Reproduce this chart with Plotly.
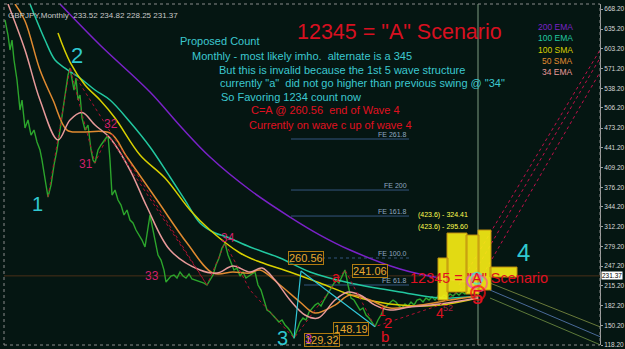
import plotly.graph_objects as go

BG = "#051612"
FONT = "Liberation Sans"

# ---------------- data (bar index, price) ----------------
price_x = [1,4,6,8,10,13,16,18,21,24,27,30,33,36,38,40,42,44,47,50,53,56,58,60,62,64,66,68,70,72,74,76,78,81,84,87,89,91,94,97,100,102,104,106,108,111,114,117,120,123,126,129,132,135,138,141,143,146,148,151,154,157,160,162,164,167,170,173,176,179,182,185,188,191,194,197,200,203,206,209,212,215,218,221,224,227,230,233,236,239,242,245,248,251,254,257,260,263,266,269,272,275,278,281,284,287,290,293,296,299,302,305,308,311,314,317,320,323,326,329,332,335,338,341,344,347,350,353,356,359,362,365,368,371,374,377,380,383,386,389,392,395,398,401,404,407,410,413,416,419,422,425,428,431,434,437,440,443,446,449,452,455,458,461,464,467,470,473]
price_y = [650.2,625.6,601.1,617.4,584.7,552.0,502.9,519.2,473.4,486.5,461.9,470.1,450.5,437.4,421.0,396.5,380.1,360.4,380.1,412.8,437.4,470.1,494.7,519.2,538.9,560.2,571.6,552.0,535.6,555.2,519.2,527.4,489.8,470.1,478.3,437.4,421.0,416.1,437.4,445.6,453.7,457.0,461.9,421.0,363.7,371.9,355.5,347.3,331.0,339.2,322.8,317.9,306.4,298.2,290.0,278.6,298.2,331.0,314.6,290.0,265.5,257.3,240.9,221.3,224.6,231.1,232.8,227.8,237.7,231.1,227.8,234.4,226.2,224.6,222.9,221.3,219.6,216.4,224.6,232.8,249.1,260.6,277.0,285.1,265.5,254.0,240.9,244.2,231.1,237.7,227.8,231.1,234.4,237.7,216.4,208.2,191.8,175.4,172.2,167.3,162.3,155.8,159.1,151.0,146.0,139.4,129.3,142.7,155.8,162.3,159.1,172.2,178.7,183.6,186.9,182.0,191.8,200.0,208.2,216.4,224.6,219.6,231.1,241.1,216.4,195.1,191.8,183.6,175.4,178.7,167.3,162.3,155.8,148.2,159.1,167.3,178.7,183.6,186.9,191.8,188.6,182.0,178.7,185.3,182.0,188.6,183.6,191.8,193.5,188.6,195.1,191.8,196.7,191.8,198.4,195.1,200.0,196.7,201.7,198.4,203.3,200.0,204.9,201.7,208.2,213.1,221.3,231.37]

ema200_x = [56,96,146,178,206,246,286,316,346,396,436,474]
ema200_y = [676.4,609.3,532.3,473.4,425.9,371.9,327.7,298.2,273.7,242.6,227.8,219.6]

ema100_x = [26,41,51,61,76,91,106,126,146,166,181,196,211,223,246,276,306,346,396,436,474]
ema100_y = [676.4,617.4,584.7,571.6,555.2,535.6,519.2,483.2,442.3,393.2,355.5,317.9,301.5,295.0,278.6,260.6,237.7,219.6,204.9,195.1,198.4]

sma100_x = [54,66,81,96,111,136,161,186,206,236,256,286,316,356,396,436,474]
sma100_y = [628.9,581.4,543.8,519.2,489.8,429.2,391.5,339.2,306.4,268.8,254.0,237.7,219.6,195.1,183.6,183.6,195.1]

sma50_x = [11,21,36,49,63,76,106,123,153,183,209,229,246,256,276,296,311,331,346,366,386,416,446,474]
sma50_y = [676.4,648.5,568.3,519.2,470.1,466.8,465.2,425.9,355.5,285.1,236.0,237.7,236.0,240.9,216.4,188.6,170.5,183.6,200.0,191.8,178.7,183.6,191.8,198.4]

ema34_x = [4,21,36,54,66,78,91,106,126,143,166,196,213,229,246,258,271,286,301,314,331,344,356,371,386,406,436,474]
ema34_y = [676.4,601.1,519.2,453.7,486.5,498.7,478.3,457.0,404.6,344.1,273.7,240.9,236.0,247.5,237.7,244.2,224.6,191.8,167.3,162.3,191.8,204.9,200.0,183.6,175.4,180.4,185.3,195.1]

wave_x = [44,66,91,104,203,221,246,290,341,371,436,474]
wave_y = [360.4,571.6,416.1,461.9,216.4,285.1,208.2,129.3,241.1,148.2,183.6,231.4]

cyan_x = [290,297,371]
cyan_y = [129.3,239.3,148.2]

fib_names = ["FE 261.8","FE 200","FE 161.8","FE 100.0","FE 61.8"]
fib_levels = [455.4,371.9,329.3,260.6,216.4]
fib_x0 = [287,287,287,318,300]
fib_x1 = [405,405,405,405,405]

chan_x0 = [455,463,473]
chan_y0 = [216.4,216.4,216.4]
chan_x1 = [599,599,599]
chan_y1 = [609.3,596.3,573.3]

fan_x0 = [486,486,486]
fan_y0 = [219.6,208.2,195.1]
fan_x1 = [599,599,599]
fan_y1 = [146.0,129.7,116.6]
fan_colors = ["#6a7a3a","#4a6a9a","#5e7a3a"]

proj_x0 = [434,443,462,474,486]
proj_x1 = [444,463,475,487,513]
proj_lo = [191.8,205.0,201.7,208.2,229.5]
proj_hi = [260.6,301.5,298.2,306.4,245.8]

box_text = ["260.56","241.06","148.19","129.32"]
box_x = [302,366,347,318]
box_y = [260.6,239.3,144.1,126.1]

wave_lbl = ["1","2","3","4"]
wave_lbl_x = [33,73,278,519]
wave_lbl_y = [349.0,592.9,130.0,270.4]
wave_lbl_size = [20,22,20,24]

sub_lbl = ["31","32","33","34","a","1","2","b","4","52","5"]
sub_lbl_x = [82,107,148,224,332,378,384,381,436,444,473]
sub_lbl_y = [414.5,479.9,231.1,293.3,229.5,172.2,155.5,131.5,170.5,178.7,196.7]
sub_lbl_size = [12,12,12,12,14,12,15,15,14,9,20]

ytick_vals = [118.20,150.20,182.20,215.20,247.20,279.20,312.20,344.20,376.20,409.20,441.20,473.20,506.20,538.20,571.20,603.20,635.20,668.20]
last_price = 231.37
cursor_x = 474

legend_names = ["200 EMA","100 EMA","100 SMA","50 SMA","34 EMA"]
legend_colors = ["#7a22c8","#22c8a0","#d8d000","#e08a30","#e89a9a"]

notes = [
    ("Proposed Count", "#3cc8d0"),
    ("Monthly - most likely imho.  alternate is a 345", "#3cc8d0"),
    ("But this is invalid because the 1st 5 wave structure", "#3cc8d0"),
    ("currently \"a\"  did not go higher than previous swing @ \"34\"", "#3cc8d0"),
    ("So Favoring 1234 count now", "#3cc8d0"),
    ("C=A @ 260.56  end of Wave 4", "#e01020"),
    ("Currently on wave c up of wave 4", "#e01020"),
]

# ---------------- layout helpers ----------------
W, H = 625, 349
L, R, T, B = 4, 25, 4, 4
PW = W - L - R
def P(px, py):
    return ((px - L) / PW, (H - B - py) / (H - T - B))

fig = go.Figure()

bx, by = [], []
for x0, x1, lo, hi in zip(proj_x0, proj_x1, proj_lo, proj_hi):
    bx += [x0, x1, x1, x0, x0, None]
    by += [lo, lo, hi, hi, lo, None]

for n, lv, a, b in zip(fib_names, fib_levels, fib_x0, fib_x1):
    fig.add_trace(go.Scatter(x=[a, b], y=[lv, lv], mode="lines",
                             line=dict(color="#35557f", width=1,
                                       dash="dot" if n == "FE 100.0" else "solid"),
                             hoverinfo="skip"))

for a, b, c, d in zip(chan_x0, chan_y0, chan_x1, chan_y1):
    fig.add_trace(go.Scatter(x=[a, c], y=[b, d], mode="lines",
                             line=dict(color="#c0104a", width=1, dash="dot")))
for a, b, c, d, col in zip(fan_x0, fan_y0, fan_x1, fan_y1, fan_colors):
    fig.add_trace(go.Scatter(x=[a, c], y=[b, d], mode="lines",
                             line=dict(color=col, width=1)))

fig.add_trace(go.Scatter(x=price_x, y=price_y, mode="lines",
                         line=dict(color="#2ca52c", width=1.4)))

for xs, ys, col in [(ema200_x, ema200_y, legend_colors[0]),
                    (ema100_x, ema100_y, legend_colors[1]),
                    (sma100_x, sma100_y, legend_colors[2]),
                    (sma50_x, sma50_y, legend_colors[3]),
                    (ema34_x, ema34_y, legend_colors[4])]:
    fig.add_trace(go.Scatter(x=xs, y=ys, mode="lines", line_shape="spline",
                             line=dict(color=col, width=1.5)))

fig.add_trace(go.Scatter(x=wave_x, y=wave_y, mode="lines",
                         line=dict(color="#b01030", width=1, dash="dot")))
fig.add_trace(go.Scatter(x=[wave_x[1], wave_x[4]], y=[wave_y[1], wave_y[4]], mode="lines",
                         line=dict(color="#b01030", width=1, dash="dot")))
fig.add_trace(go.Scatter(x=cyan_x, y=cyan_y, mode="lines",
                         line=dict(color="#30c8d8", width=1.2)))

fig.add_trace(go.Scatter(x=bx, y=by, mode="lines", fill="toself",
                         fillcolor="rgba(245,235,20,0.92)",
                         line=dict(color="#c09010", width=1)))

fig.add_trace(go.Scatter(x=[cursor_x - 4, cursor_x - 1, cursor_x + 1, cursor_x],
                         y=[last_price - 8, last_price - 4, last_price - 12, last_price - 28],
                         mode="markers",
                         marker=dict(symbol="circle-open", size=[14, 11, 16, 14],
                                     color=["#e040e0", "#40e0e0", "#ff5090", "#ff1010"],
                                     line=dict(width=2))))

shapes = [
    dict(type="line", xref="paper", yref="y", x0=0, x1=1, y0=last_price, y1=last_price,
         line=dict(color="#4a3018", width=1), layer="below"),
    dict(type="line", xref="x", yref="paper", x0=cursor_x, x1=cursor_x, y0=0, y1=1,
         line=dict(color="#7e9a80", width=1), layer="below"),
    dict(type="rect", xref="paper", yref="paper", x0=0, x1=1, y0=0, y1=1,
         line=dict(color="#8a8a8a", width=1, dash="dot")),
]

ann = []
for n, lv, b in zip(fib_names, fib_levels, fib_x1):
    ann.append(dict(x=b, y=lv, xref="x", yref="y", text=n, showarrow=False,
                    xanchor="right", yanchor="bottom", yshift=-1,
                    font=dict(family=FONT, size=7, color="#8fa8c0")))
for t, x, y in zip(box_text, box_x, box_y):
    ann.append(dict(x=x, y=y, xref="x", yref="y", text=t, showarrow=False,
                    font=dict(family=FONT, size=11, color="#e8a830"),
                    bordercolor="#b07a10", borderwidth=1, borderpad=0,
                    bgcolor="rgba(5,22,18,0.6)"))
for t, x, y, s in zip(wave_lbl, wave_lbl_x, wave_lbl_y, wave_lbl_size):
    ann.append(dict(x=x, y=y, xref="x", yref="y", text=t, showarrow=False,
                    font=dict(family=FONT, size=s, color="#30c8d0")))
for t, x, y, s in zip(sub_lbl, sub_lbl_x, sub_lbl_y, sub_lbl_size):
    col = "#a02040"
    if t in ("31", "32", "33", "34"):
        col = "#d0206a"
    if t in ("1", "2", "b", "4", "5", "a"):
        col = "#e01020"
    ann.append(dict(x=x, y=y, xref="x", yref="y", text=t, showarrow=False,
                    font=dict(family=FONT, size=s, color=col)))
ann.append(dict(x=box_x[3] - 14, y=box_y[3] + 2, xref="x", yref="y", text="3",
                showarrow=False, font=dict(family=FONT, size=13, color="#d040c0")))

for txt, py in [("(423.6) - 324.41", 215), ("(423.6) - 295.60", 233)]:
    x, y = P(470, py)
    ann.append(dict(x=x, y=y, xref="paper", yref="paper", text=txt, showarrow=False,
                    font=dict(family=FONT, size=7, color="#ffff50")))

x, y = P(295, 18)
ann.append(dict(x=x, y=y, xref="paper", yref="paper", text="12345 = \"A\" Scenario",
                showarrow=False, xanchor="left", font=dict(family=FONT, size=21.5, color="#d81020")))
x, y = P(408, 288)
ann.append(dict(x=x, y=y, xref="paper", yref="paper", text="12345 = \"A\" Scenario",
                showarrow=False, xanchor="left", font=dict(family=FONT, size=14.5, color="#e01020")))
note_pos = [(178, 33), (190, 48), (217, 62), (218, 75), (219, 89), (249, 102), (247, 117)]
for (t, c), (px, py) in zip(notes, note_pos):
    x, y = P(px, py)
    ann.append(dict(x=x, y=y, xref="paper", yref="paper", text=t, showarrow=False,
                    xanchor="left", font=dict(family=FONT, size=11, color=c)))
for i, (n, c) in enumerate(zip(legend_names, legend_colors)):
    x, y = P(575, [20, 31, 43, 54, 65][i])
    ann.append(dict(x=x, y=y, xref="paper", yref="paper", text=n, showarrow=False,
                    xanchor="right", font=dict(family=FONT, size=8.5, color=c)))
x, y = P(6, 9)
ann.append(dict(x=x, y=y, xref="paper", yref="paper",
                text="GBPJPY,Monthly  233.52 234.82 228.25 231.37", showarrow=False,
                xanchor="left", font=dict(family=FONT, size=8, color="#c8c8c8")))
ann.append(dict(x=1, y=last_price, xref="paper", yref="y", text="231.37", showarrow=False,
                xanchor="left", xshift=1, bgcolor="#ffffff", borderpad=0,
                font=dict(family=FONT, size=6.5, color="#000000")))

fig.update_layout(
    template="none",
    width=W, height=H, margin=dict(l=L, r=R, t=T, b=B),
    paper_bgcolor=BG, plot_bgcolor=BG, showlegend=False,
    xaxis=dict(range=[0, PW], showgrid=False, zeroline=False,
               showticklabels=False, ticks="", automargin=False, showline=False),
    yaxis=dict(side="right", range=[118.2, 676.4], tickvals=ytick_vals,
               ticktext=[f"{v:.2f}" for v in ytick_vals],
               ticks="outside", ticklen=2, tickcolor="#a0a0a0",
               tickfont=dict(family=FONT, size=6.5, color="#d8d8d8"),
               showgrid=False, zeroline=False, showline=True, linecolor="#a0a0a0",
               automargin=False),
    shapes=shapes, annotations=ann,
)

fig.write_html("out.html")
